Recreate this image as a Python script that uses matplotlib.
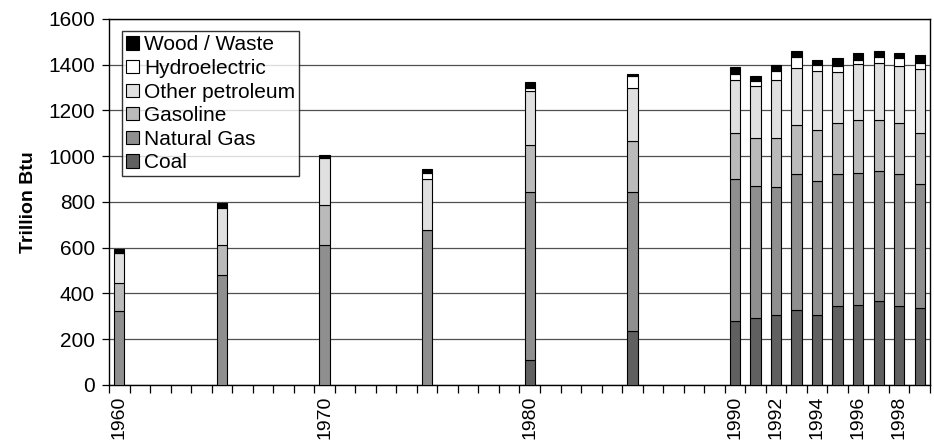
import matplotlib.pyplot as plt
import numpy as np

plt.rcParams['font.family'] = ['Liberation Sans', 'DejaVu Sans']

years = [1960, 1965, 1970, 1975, 1980, 1985,
         1990, 1991, 1992, 1993, 1994, 1995, 1996, 1997, 1998, 1999]

coal = [0, 0, 0, 0, 108, 235,
        279, 294, 307, 329, 307, 344, 351, 365, 344, 336]
natural_gas = [323, 479, 613, 679, 736, 608,
               622, 577, 557, 593, 586, 576, 574, 571, 578, 544]
gasoline = [121, 134, 175, 0, 205, 224,
            200, 210, 216, 214, 221, 223, 233, 222, 221, 221]
other_petroleum = [131, 161, 205, 221, 237, 231,
                   230, 227, 254, 250, 259, 225, 243, 250, 249, 278]
hydroelectric = [3, 3, 3, 28, 13, 50,
                 26, 19, 38, 47, 27, 24, 19, 25, 35, 26]
wood_waste = [16, 17, 9, 15, 23, 12,
              31, 24, 28, 25, 21, 37, 31, 25, 24, 38]

series_names = ["Coal", "Natural Gas", "Gasoline", "Other petroleum",
                "Hydroelectric", "Wood / Waste"]
series_vals = [coal, natural_gas, gasoline, other_petroleum,
               hydroelectric, wood_waste]
colors = ["#606060", "#8f8f8f", "#bababa", "#e0e0e0", "#ffffff", "#000000"]

label_years = [1960, 1970, 1980, 1990, 1992, 1994, 1996, 1998]

fig = plt.figure(figsize=(9.34, 4.46), dpi=100)
ax = fig.add_axes([0.1167, 0.137, 0.879, 0.821])

x = np.array(years)
bottom = np.zeros(len(years))
handles = []
for name, vals, c in zip(series_names, series_vals, colors):
  vals = np.array(vals, dtype=float)
  b = ax.bar(x, vals, width=0.5, bottom=bottom, color=c,
             edgecolor="black", linewidth=0.8, label=name, zorder=3)
  handles.append(b)
  bottom += vals

# axes
ax.set_xlim(1959.5, 1999.5)
ax.set_ylim(0, 1600)
ax.set_yticks(range(0, 1601, 200))
ax.yaxis.grid(True, color="#505050", linewidth=0.9, zorder=0)
ax.set_axisbelow(True)

ax.set_xticks(label_years)
ax.set_xticklabels([str(y) for y in label_years], rotation=90)
ax.set_xticks(np.arange(1959.5, 1999.6, 1.0), minor=True)
ax.tick_params(axis="x", which="major", length=0, pad=8, labelsize=14)
ax.tick_params(axis="x", which="minor", length=6, width=0.9, direction="out")
ax.tick_params(axis="y", length=5, width=0.9, direction="out", labelsize=15, pad=5)

for sp in ax.spines.values():
  sp.set_linewidth(1.0)
  sp.set_color("black")

ax.set_ylabel("Trillion Btu", fontsize=14, fontweight="bold", labelpad=8)

leg = ax.legend(handles[::-1], series_names[::-1], loc="upper left",
                bbox_to_anchor=(0.016, 0.966), fontsize=15, frameon=True,
                fancybox=False, borderpad=0.2, labelspacing=0.22,
                handlelength=0.6, handleheight=0.6, handletextpad=0.25,
                borderaxespad=0)
leg.get_frame().set_edgecolor("black")
leg.get_frame().set_linewidth(1.0)

fig.savefig("out.png", dpi=100)
